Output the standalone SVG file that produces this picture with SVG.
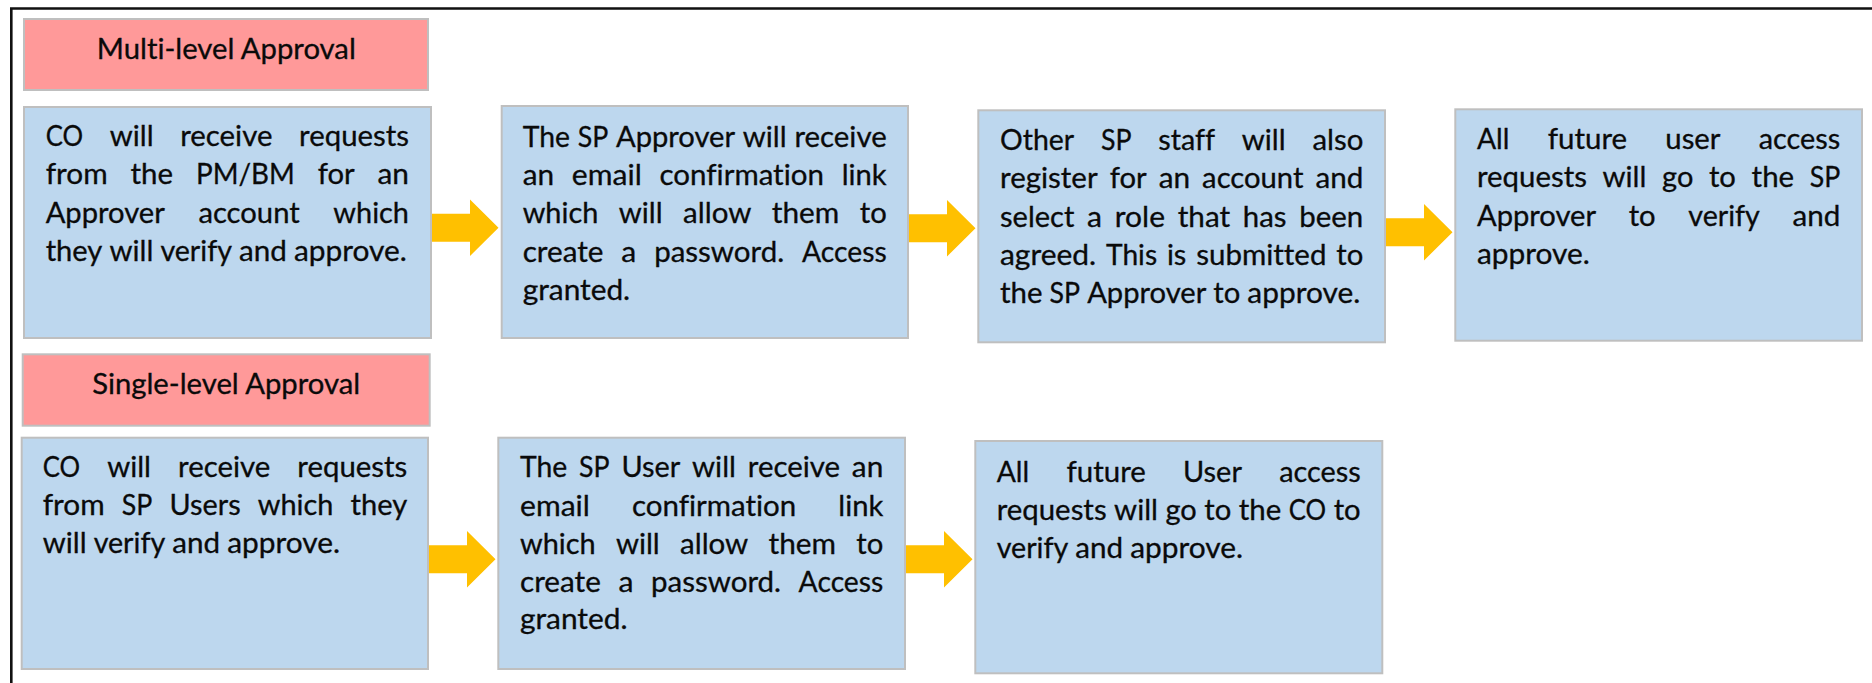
<svg xmlns="http://www.w3.org/2000/svg" xmlns:xlink="http://www.w3.org/1999/xlink" width="1872" height="683" viewBox="0 0 1872 683">
  <style>
    .hdr { fill: #FF9999; stroke: #BFBFBF; stroke-width: 2; }
    .box { fill: #BDD7EE; stroke: #BFBFBF; stroke-width: 2; }
    .t { font-family: Lato, "Open Sans", "Liberation Sans", sans-serif; font-size: 28px; fill: #0a0a0a; stroke: #0a0a0a; stroke-width: 0.3; font-variant-ligatures: none; }
    .arrow { fill: #FFC000; }
  </style>
  <defs>
    <!-- block arrow, origin at the tail centre, pointing right -->
    <path id="blockArrow" class="arrow" d="M0,-14 H38 V-28.3 L66.5,0 L38,28.3 V14 H0 Z"/>
  </defs>

  <rect width="1872" height="683" fill="#FFFFFF"/>
  <!-- outer frame -->
  <path d="M11.3,683 V8.5 H1872" fill="none" stroke="#111" stroke-width="2.6"/>

  <!-- Multi-level row -->
  <g id="hdr-multi">
    <rect class="hdr" x="24" y="19" width="404" height="71"/>
    <text class="t" x="226.3" y="59.3" text-anchor="middle" textLength="259" lengthAdjust="spacingAndGlyphs">Multi-level Approval</text>
  </g>

  <g id="multi-1">
    <rect class="box" x="24" y="107" width="407" height="231"/>
    <text class="t" y="145.7"><tspan x="45.7" textLength="37.4" lengthAdjust="spacingAndGlyphs">CO</tspan><tspan x="109.72" textLength="43.88" lengthAdjust="spacingAndGlyphs">will</tspan><tspan x="180.22" textLength="92.24" lengthAdjust="spacingAndGlyphs">receive</tspan><tspan x="299.08" textLength="109.93" lengthAdjust="spacingAndGlyphs">requests</tspan></text>
    <text class="t" y="184.3"><tspan x="45.7" textLength="61.97" lengthAdjust="spacingAndGlyphs">from</tspan><tspan x="130.57" textLength="42.51" lengthAdjust="spacingAndGlyphs">the</tspan><tspan x="195.98" textLength="98.81" lengthAdjust="spacingAndGlyphs">PM/BM</tspan><tspan x="317.69" textLength="36.97" lengthAdjust="spacingAndGlyphs">for</tspan><tspan x="377.56" textLength="31.43" lengthAdjust="spacingAndGlyphs">an</tspan></text>
    <text class="t" y="222.7"><tspan x="45.7" textLength="119.07" lengthAdjust="spacingAndGlyphs">Approver</tspan><tspan x="198.4" textLength="101.32" lengthAdjust="spacingAndGlyphs">account</tspan><tspan x="333.35" textLength="75.65" lengthAdjust="spacingAndGlyphs">which</tspan></text>
    <text class="t" y="261"><tspan x="45.7" textLength="56.68" lengthAdjust="spacingAndGlyphs">they</tspan><tspan x="109.45" textLength="43.88" lengthAdjust="spacingAndGlyphs">will</tspan><tspan x="160.4" textLength="71.55" lengthAdjust="spacingAndGlyphs">verify</tspan><tspan x="239.02" textLength="47.86" lengthAdjust="spacingAndGlyphs">and</tspan><tspan x="293.95" textLength="112.9" lengthAdjust="spacingAndGlyphs">approve.</tspan></text>
  </g>

  <g id="multi-2">
    <rect class="box" x="501.7" y="106" width="406.3" height="232"/>
    <text class="t" y="146.7"><tspan x="522.7" textLength="47.26" lengthAdjust="spacingAndGlyphs">The</tspan><tspan x="577.71" textLength="30.55" lengthAdjust="spacingAndGlyphs">SP</tspan><tspan x="616.01" textLength="119.07" lengthAdjust="spacingAndGlyphs">Approver</tspan><tspan x="742.83" textLength="43.88" lengthAdjust="spacingAndGlyphs">will</tspan><tspan x="794.46" textLength="92.24" lengthAdjust="spacingAndGlyphs">receive</tspan></text>
    <text class="t" y="185"><tspan x="522.7" textLength="31.43" lengthAdjust="spacingAndGlyphs">an</tspan><tspan x="571.88" textLength="69.92" lengthAdjust="spacingAndGlyphs">email</tspan><tspan x="659.55" textLength="164.39" lengthAdjust="spacingAndGlyphs">confirmation</tspan><tspan x="841.69" textLength="45.01" lengthAdjust="spacingAndGlyphs">link</tspan></text>
    <text class="t" y="223.3"><tspan x="522.7" textLength="75.65" lengthAdjust="spacingAndGlyphs">which</tspan><tspan x="618.8" textLength="43.88" lengthAdjust="spacingAndGlyphs">will</tspan><tspan x="683.13" textLength="68.2" lengthAdjust="spacingAndGlyphs">allow</tspan><tspan x="771.78" textLength="67.51" lengthAdjust="spacingAndGlyphs">them</tspan><tspan x="859.74" textLength="26.98" lengthAdjust="spacingAndGlyphs">to</tspan></text>
    <text class="t" y="261.7"><tspan x="522.7" textLength="80.82" lengthAdjust="spacingAndGlyphs">create</tspan><tspan x="621.35" textLength="14.99" lengthAdjust="spacingAndGlyphs">a</tspan><tspan x="654.17" textLength="130.02" lengthAdjust="spacingAndGlyphs">password.</tspan><tspan x="802.02" textLength="84.67" lengthAdjust="spacingAndGlyphs">Access</tspan></text>
    <text class="t" y="299.7"><tspan x="522.7" textLength="107.48" lengthAdjust="spacingAndGlyphs">granted.</tspan></text>
  </g>

  <g id="multi-3">
    <rect class="box" x="978.3" y="110.3" width="406.7" height="232"/>
    <text class="t" y="150"><tspan x="1000" textLength="74.15" lengthAdjust="spacingAndGlyphs">Other</tspan><tspan x="1100.91" textLength="30.55" lengthAdjust="spacingAndGlyphs">SP</tspan><tspan x="1158.22" textLength="56.81" lengthAdjust="spacingAndGlyphs">staff</tspan><tspan x="1241.79" textLength="43.88" lengthAdjust="spacingAndGlyphs">will</tspan><tspan x="1312.43" textLength="50.89" lengthAdjust="spacingAndGlyphs">also</tspan></text>
    <text class="t" y="188.3"><tspan x="1000" textLength="97.66" lengthAdjust="spacingAndGlyphs">register</tspan><tspan x="1109.68" textLength="36.97" lengthAdjust="spacingAndGlyphs">for</tspan><tspan x="1158.67" textLength="31.43" lengthAdjust="spacingAndGlyphs">an</tspan><tspan x="1202.12" textLength="101.32" lengthAdjust="spacingAndGlyphs">account</tspan><tspan x="1315.46" textLength="47.86" lengthAdjust="spacingAndGlyphs">and</tspan></text>
    <text class="t" y="226.7"><tspan x="1000" textLength="74.31" lengthAdjust="spacingAndGlyphs">select</tspan><tspan x="1087.06" textLength="14.99" lengthAdjust="spacingAndGlyphs">a</tspan><tspan x="1114.8" textLength="50.17" lengthAdjust="spacingAndGlyphs">role</tspan><tspan x="1177.72" textLength="52.4" lengthAdjust="spacingAndGlyphs">that</tspan><tspan x="1242.87" textLength="43.66" lengthAdjust="spacingAndGlyphs">has</tspan><tspan x="1299.28" textLength="64.04" lengthAdjust="spacingAndGlyphs">been</tspan></text>
    <text class="t" y="265"><tspan x="1000" textLength="96.15" lengthAdjust="spacingAndGlyphs">agreed.</tspan><tspan x="1106" textLength="51.08" lengthAdjust="spacingAndGlyphs">This</tspan><tspan x="1166.93" textLength="19.41" lengthAdjust="spacingAndGlyphs">is</tspan><tspan x="1196.19" textLength="130.27" lengthAdjust="spacingAndGlyphs">submitted</tspan><tspan x="1336.31" textLength="26.98" lengthAdjust="spacingAndGlyphs">to</tspan></text>
    <text class="t" y="303.3"><tspan x="1000" textLength="42.51" lengthAdjust="spacingAndGlyphs">the</tspan><tspan x="1049.58" textLength="30.55" lengthAdjust="spacingAndGlyphs">SP</tspan><tspan x="1087.2" textLength="119.07" lengthAdjust="spacingAndGlyphs">Approver</tspan><tspan x="1213.34" textLength="26.98" lengthAdjust="spacingAndGlyphs">to</tspan><tspan x="1247.39" textLength="112.9" lengthAdjust="spacingAndGlyphs">approve.</tspan></text>
  </g>

  <g id="multi-4">
    <rect class="box" x="1455.3" y="109.3" width="406.7" height="231.4"/>
    <text class="t" y="149"><tspan x="1477" textLength="32.46" lengthAdjust="spacingAndGlyphs">All</tspan><tspan x="1547.7" textLength="79.41" lengthAdjust="spacingAndGlyphs">future</tspan><tspan x="1665.35" textLength="55.18" lengthAdjust="spacingAndGlyphs">user</tspan><tspan x="1758.77" textLength="81.54" lengthAdjust="spacingAndGlyphs">access</tspan></text>
    <text class="t" y="187.3"><tspan x="1477" textLength="109.93" lengthAdjust="spacingAndGlyphs">requests</tspan><tspan x="1602.57" textLength="43.88" lengthAdjust="spacingAndGlyphs">will</tspan><tspan x="1662.09" textLength="31.24" lengthAdjust="spacingAndGlyphs">go</tspan><tspan x="1708.97" textLength="26.98" lengthAdjust="spacingAndGlyphs">to</tspan><tspan x="1751.59" textLength="42.51" lengthAdjust="spacingAndGlyphs">the</tspan><tspan x="1809.74" textLength="30.55" lengthAdjust="spacingAndGlyphs">SP</tspan></text>
    <text class="t" y="226"><tspan x="1477" textLength="119.07" lengthAdjust="spacingAndGlyphs">Approver</tspan><tspan x="1628.68" textLength="26.98" lengthAdjust="spacingAndGlyphs">to</tspan><tspan x="1688.27" textLength="71.55" lengthAdjust="spacingAndGlyphs">verify</tspan><tspan x="1792.43" textLength="47.86" lengthAdjust="spacingAndGlyphs">and</tspan></text>
    <text class="t" y="264.3"><tspan x="1477" textLength="112.9" lengthAdjust="spacingAndGlyphs">approve.</tspan></text>
  </g>

  <!-- Single-level row -->
  <g id="hdr-single">
    <rect class="hdr" x="22.7" y="354.3" width="407" height="71.4"/>
    <text class="t" x="226.2" y="394.3" text-anchor="middle" textLength="268" lengthAdjust="spacingAndGlyphs">Single-level Approval</text>
  </g>

  <g id="single-1">
    <rect class="box" x="21.7" y="437.7" width="406.3" height="231.3"/>
    <text class="t" y="476.7"><tspan x="42.7" textLength="37.4" lengthAdjust="spacingAndGlyphs">CO</tspan><tspan x="107.15" textLength="43.88" lengthAdjust="spacingAndGlyphs">will</tspan><tspan x="178.08" textLength="92.24" lengthAdjust="spacingAndGlyphs">receive</tspan><tspan x="297.37" textLength="109.93" lengthAdjust="spacingAndGlyphs">requests</tspan></text>
    <text class="t" y="515"><tspan x="42.7" textLength="61.97" lengthAdjust="spacingAndGlyphs">from</tspan><tspan x="121.84" textLength="30.55" lengthAdjust="spacingAndGlyphs">SP</tspan><tspan x="169.56" textLength="71.08" lengthAdjust="spacingAndGlyphs">Users</tspan><tspan x="257.81" textLength="75.65" lengthAdjust="spacingAndGlyphs">which</tspan><tspan x="350.63" textLength="56.68" lengthAdjust="spacingAndGlyphs">they</tspan></text>
    <text class="t" y="553.3"><tspan x="42.7" textLength="43.88" lengthAdjust="spacingAndGlyphs">will</tspan><tspan x="93.65" textLength="71.55" lengthAdjust="spacingAndGlyphs">verify</tspan><tspan x="172.27" textLength="47.86" lengthAdjust="spacingAndGlyphs">and</tspan><tspan x="227.2" textLength="112.9" lengthAdjust="spacingAndGlyphs">approve.</tspan></text>
  </g>

  <g id="single-2">
    <rect class="box" x="498.3" y="437.7" width="406.7" height="231.3"/>
    <text class="t" y="477.3"><tspan x="520" textLength="47.26" lengthAdjust="spacingAndGlyphs">The</tspan><tspan x="579.08" textLength="30.55" lengthAdjust="spacingAndGlyphs">SP</tspan><tspan x="621.45" textLength="58.84" lengthAdjust="spacingAndGlyphs">User</tspan><tspan x="692.11" textLength="43.88" lengthAdjust="spacingAndGlyphs">will</tspan><tspan x="747.81" textLength="92.24" lengthAdjust="spacingAndGlyphs">receive</tspan><tspan x="851.87" textLength="31.43" lengthAdjust="spacingAndGlyphs">an</tspan></text>
    <text class="t" y="515.7"><tspan x="520" textLength="69.92" lengthAdjust="spacingAndGlyphs">email</tspan><tspan x="631.91" textLength="164.39" lengthAdjust="spacingAndGlyphs">confirmation</tspan><tspan x="838.29" textLength="45.01" lengthAdjust="spacingAndGlyphs">link</tspan></text>
    <text class="t" y="554"><tspan x="520" textLength="75.65" lengthAdjust="spacingAndGlyphs">which</tspan><tspan x="615.92" textLength="43.88" lengthAdjust="spacingAndGlyphs">will</tspan><tspan x="680.07" textLength="68.2" lengthAdjust="spacingAndGlyphs">allow</tspan><tspan x="768.54" textLength="67.51" lengthAdjust="spacingAndGlyphs">them</tspan><tspan x="856.32" textLength="26.98" lengthAdjust="spacingAndGlyphs">to</tspan></text>
    <text class="t" y="591.7"><tspan x="520" textLength="80.82" lengthAdjust="spacingAndGlyphs">create</tspan><tspan x="618.42" textLength="14.99" lengthAdjust="spacingAndGlyphs">a</tspan><tspan x="651.01" textLength="130.02" lengthAdjust="spacingAndGlyphs">password.</tspan><tspan x="798.63" textLength="84.67" lengthAdjust="spacingAndGlyphs">Access</tspan></text>
    <text class="t" y="629"><tspan x="520" textLength="107.48" lengthAdjust="spacingAndGlyphs">granted.</tspan></text>
  </g>

  <g id="single-3">
    <rect class="box" x="975.3" y="441" width="407" height="232.3"/>
    <text class="t" y="481.7"><tspan x="996.7" textLength="32.46" lengthAdjust="spacingAndGlyphs">All</tspan><tspan x="1066.41" textLength="79.41" lengthAdjust="spacingAndGlyphs">future</tspan><tspan x="1183.07" textLength="58.84" lengthAdjust="spacingAndGlyphs">User</tspan><tspan x="1279.16" textLength="81.54" lengthAdjust="spacingAndGlyphs">access</tspan></text>
    <text class="t" y="520"><tspan x="996.7" textLength="109.93" lengthAdjust="spacingAndGlyphs">requests</tspan><tspan x="1114.14" textLength="43.88" lengthAdjust="spacingAndGlyphs">will</tspan><tspan x="1165.53" textLength="31.24" lengthAdjust="spacingAndGlyphs">go</tspan><tspan x="1204.28" textLength="26.98" lengthAdjust="spacingAndGlyphs">to</tspan><tspan x="1238.77" textLength="42.51" lengthAdjust="spacingAndGlyphs">the</tspan><tspan x="1288.79" textLength="37.4" lengthAdjust="spacingAndGlyphs">CO</tspan><tspan x="1333.7" textLength="26.98" lengthAdjust="spacingAndGlyphs">to</tspan></text>
    <text class="t" y="558.3"><tspan x="996.7" textLength="71.55" lengthAdjust="spacingAndGlyphs">verify</tspan><tspan x="1075.32" textLength="47.86" lengthAdjust="spacingAndGlyphs">and</tspan><tspan x="1130.25" textLength="112.9" lengthAdjust="spacingAndGlyphs">approve.</tspan></text>
  </g>

  <!-- connectors -->
  <g id="connectors">
    <use xlink:href="#blockArrow" transform="translate(432,227.7)"/>
    <use xlink:href="#blockArrow" transform="translate(909,228.2)"/>
    <use xlink:href="#blockArrow" transform="translate(1386,232.2)"/>
    <use xlink:href="#blockArrow" transform="translate(429,559.2)"/>
    <use xlink:href="#blockArrow" transform="translate(906,559.2)"/>
  </g>
</svg>
